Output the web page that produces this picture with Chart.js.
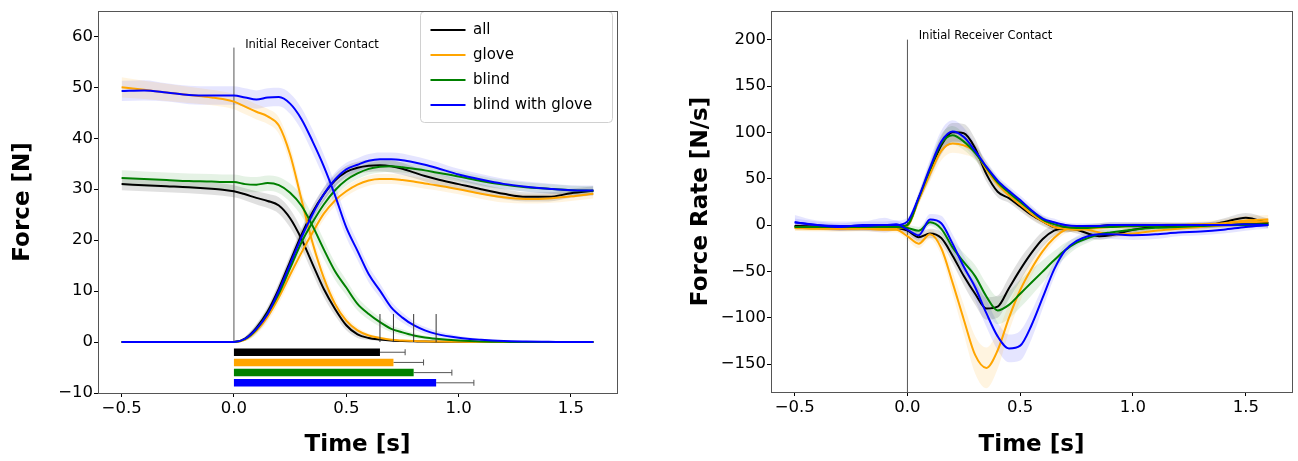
<!DOCTYPE html>
<html>
<head>
<meta charset="utf-8">
<script src="https://cdn.jsdelivr.net/npm/chart.js@4.4.0/dist/chart.umd.min.js"></script>
<style>
  html, body { margin: 0; padding: 0; background: #fff; }
  #wrap { position: relative; width: 1298px; height: 461px; }
  canvas { position: absolute; top: 0; }
  #forceChart { left: 0; }
  #rateChart { left: 649px; }
</style>
</head>
<body>
<div id="wrap">
  <canvas id="forceChart" width="649" height="461"></canvas>
  <canvas id="rateChart" width="649" height="461"></canvas>
</div>
<script>
// time grid [s]
const timeS = [-0.5,-0.4,-0.3,-0.2,-0.1,-0.05,0,0.05,0.1,0.15,0.2,0.25,0.3,0.35,0.4,0.45,0.5,0.55,0.6,0.65,0.7,0.75,0.8,0.85,0.9,1.0,1.1,1.2,1.3,1.4,1.5,1.6];

const conditions = ["all", "glove", "blind", "blind with glove"];
const lineColors = ["#000000", "#ffa500", "#008000", "#0000ff"];
const bandColors = ["rgba(0,0,0,0.12)", "rgba(255,165,0,0.12)", "rgba(0,128,0,0.1)", "rgba(0,0,255,0.1)"];

// giver force [N]
const allGiver   = [31.0,30.8,30.6,30.4,30.1,29.9,29.6,29.0,28.3,27.7,26.8,24.3,20.3,15.3,10.4,6.5,3.3,1.5,0.8,0.5,0.3,0.2,0.15,0.1,0.07,0.04,0.02,0.01,0,0,0,0];
const gloveGiver = [50.0,49.5,49.0,48.5,48.0,47.7,47.2,46.2,45.2,44.3,42.5,36.8,28.1,19.5,12.6,7.5,4.2,2.3,1.3,0.8,0.45,0.3,0.2,0.15,0.1,0.05,0.02,0,0,0,0,0];
const blindGiver = [32.2,32.0,31.8,31.6,31.5,31.4,31.4,31.0,30.9,31.2,30.8,29.3,26.8,22.8,18.2,13.9,10.7,7.5,5.5,3.9,2.6,1.9,1.3,0.9,0.65,0.3,0.1,0.05,0,0,0,0];
const bwgGiver   = [49.3,49.4,49.0,48.5,48.4,48.4,48.4,48.0,47.6,48.0,48.1,46.8,43.8,39.4,34.5,28.8,22.5,17.9,13.3,10.1,6.8,4.8,3.3,2.3,1.6,0.85,0.45,0.2,0.1,0.05,0,0];
const allGiverSd   = [1.2,1.2,1.2,1.2,1.2,1.2,1.2,1.2,1.3,1.4,1.6,1.8,1.9,1.8,1.6,1.3,1.0,0.7,0.4,0.3,0.2,0.15,0.1,0.1,0.1,0.05,0,0,0,0,0,0];
const gloveGiverSd = [2.0,1.8,1.7,1.6,1.5,1.5,1.5,1.5,1.5,1.5,1.6,1.8,1.9,1.8,1.5,1.2,0.9,0.6,0.4,0.3,0.2,0.15,0.1,0.1,0.1,0.05,0,0,0,0,0,0];
const blindGiverSd = [1.5,1.5,1.5,1.5,1.5,1.5,1.5,1.5,1.5,1.5,1.6,1.8,2.0,2.0,1.9,1.7,1.5,1.3,1.1,0.9,0.7,0.6,0.5,0.4,0.3,0.2,0.1,0,0,0,0,0];
const bwgGiverSd   = [2.0,2.0,1.8,1.8,1.8,1.8,1.8,1.8,1.8,1.8,1.8,2.0,2.2,2.3,2.3,2.2,2.0,1.8,1.6,1.4,1.2,1.0,0.8,0.7,0.6,0.4,0.2,0.1,0,0,0,0];

// receiver force [N]
const allRecv   = [0,0,0,0,0,0,0,0.7,2.8,6.0,10.5,15.8,21.0,25.5,29.0,31.7,33.4,34.2,34.6,34.7,34.5,34.0,33.3,32.6,32.0,31.0,30.0,29.1,28.5,28.5,29.2,29.7];
const gloveRecv = [0,0,0,0,0,0,0,0.5,2.2,5.0,8.8,13.2,17.5,21.5,25.2,27.8,29.6,30.9,31.7,32.0,32.0,31.8,31.5,31.1,30.8,30.0,29.1,28.4,28.1,28.2,28.6,29.1];
const blindRecv = [0,0,0,0,0,0,0,0.6,2.5,5.6,9.5,14.5,19.5,23.5,27.0,29.8,31.8,33.1,34.0,34.4,34.5,34.3,34.0,33.7,33.3,32.5,31.6,30.9,30.4,30.1,29.8,29.7];
const bwgRecv   = [0,0,0,0,0,0,0,0.65,2.6,5.5,10.1,15.3,20.5,25.1,29.0,31.9,33.9,34.8,35.6,35.9,35.9,35.7,35.3,34.8,34.2,32.9,31.9,31.05,30.5,30.1,29.8,29.75];
const allRecvSd   = [0,0,0,0,0,0,0,0.4,0.8,1.0,1.2,1.3,1.3,1.3,1.3,1.2,1.2,1.2,1.2,1.2,1.2,1.2,1.1,1.1,1.1,1.0,1.0,1.0,0.9,0.9,0.9,0.9];
const gloveRecvSd = [0,0,0,0,0,0,0,0.3,0.7,1.0,1.2,1.2,1.2,1.2,1.2,1.1,1.0,1.0,1.0,1.0,1.0,1.0,1.0,1.0,1.0,1.0,1.0,1.0,0.9,0.9,0.9,0.9];
const blindRecvSd = [0,0,0,0,0,0,0,0.4,0.8,1.0,1.2,1.2,1.3,1.3,1.2,1.2,1.1,1.1,1.1,1.1,1.1,1.0,1.0,1.0,1.0,1.0,1.0,0.9,0.9,0.9,0.9,0.9];
const bwgRecvSd   = [0,0,0,0,0,0,0,0.4,0.8,1.1,1.3,1.4,1.4,1.4,1.4,1.4,1.3,1.3,1.3,1.3,1.3,1.3,1.2,1.2,1.2,1.1,1.1,1.0,1.0,1.0,1.0,1.0];

// release time bars (y row, mean, sd) [s]
const barRows = [-2, -4, -6, -8];
const releaseMean = [0.65, 0.71, 0.80, 0.90];
const releaseSd = [0.112, 0.134, 0.17, 0.168];
const releaseMarkTop = 5.5;
const contactTopForce = 57.8;
const contactTopRate = 200;

// force rate [N/s], receiver (positive peak)
const allRecvRate   = [-1,-2,-3,-2,-2,-2,0,29,58,86,100,99,83,55,36,29,20,11,4,-2,-4,-3,-2,-1,0,0,0,-1,-1,3,8,2];
const gloveRecvRate = [-3,-3,-4,-3,-3,-3,-1,27,55,80,88,86,79,60,44,32,22,12,4,-2,-4,-5,-4,-3,-2,-1,0,0,1,2,5,6];
const blindRecvRate = [-2,-2,-2,-2,-2,-2,0,29,60,88,97,90,78,62,46,35,25,15,6,1,-2,-3,-3,-2,-2,-1,-1,0,0,0,1,1];
const bwgRecvRate   = [3,0,-1,-1,0,0,4,30,62,90,101,95,80,63,48,37,27,16,7,3,0,-1,-1,-1,0,0,0,0,0,0,1,0];
const allRecvRateSd   = [2,2,2,2,2,2,2,5,8,10,10,10,10,8,6,5,5,5,5,4,4,3,3,3,3,3,3,3,3,4,5,5];
const gloveRecvRateSd = [3,3,3,3,3,3,3,5,8,10,10,10,8,7,6,5,5,5,4,4,3,3,3,3,3,3,3,3,3,4,5,5];
const blindRecvRateSd = [2,2,2,2,2,2,2,5,8,10,10,9,8,6,5,5,4,4,4,3,3,3,3,3,3,3,2,2,2,2,2,2];
const bwgRecvRateSd   = [8,5,5,5,8,5,4,6,9,12,12,10,8,6,5,5,5,5,4,4,3,3,3,3,3,3,3,3,3,3,3,3];

// force rate [N/s], giver (negative peak)
const allGiverRate   = [-1,-2,-3,-3,-3,-3,-6,-13,-9,-14,-33,-55,-74,-90,-88,-68,-48,-30,-15,-6,-3,-5,-9,-12,-11,-5,-2,-1,0,1,2,2];
const gloveGiverRate = [-3,-4,-4,-4,-5,-5,-12,-20,-10,-25,-62,-102,-140,-154,-135,-100,-70,-47,-28,-14,-5,-3,-5,-8,-10,-9,-6,-4,-2,0,3,4];
const blindGiverRate = [-2,-2,-2,-2,-2,-2,-3,-6,3,-4,-24,-40,-55,-77,-92,-86,-74,-62,-50,-38,-27,-19,-14,-10,-8,-5,-3,-2,-1,0,0,0];
const bwgGiverRate   = [3,0,-2,0,0,1,-5,-11,6,2,-20,-45,-67,-95,-120,-133,-130,-108,-78,-48,-27,-17,-12,-10,-10,-11,-10,-8,-7,-5,-2,0];
const allGiverRateSd   = [3,3,3,3,3,3,4,5,5,6,8,10,12,12,12,12,12,10,8,6,4,4,4,4,3,3,3,3,3,3,3,3];
const gloveGiverRateSd = [3,3,3,3,3,3,4,5,5,8,12,16,20,22,20,15,12,8,6,5,4,4,4,4,3,3,3,3,3,3,3,3];
const blindGiverRateSd = [2,2,2,2,2,2,3,4,4,6,8,10,12,14,15,15,15,14,12,10,8,6,5,4,3,3,3,3,2,2,2,2];
const bwgGiverRateSd   = [4,4,4,4,4,4,4,5,6,8,10,12,14,15,15,15,16,15,12,9,6,5,5,5,5,5,5,4,4,4,4,4];

const timeTicks = [-0.5, 0, 0.5, 1.0, 1.5];
const forceTicks = [-10, 0, 10, 20, 30, 40, 50, 60];
const rateTicks = [-150, -100, -50, 0, 50, 100, 150, 200];

Chart.defaults.font.family = "DejaVu Sans";
Chart.defaults.color = "#000";

const minus = (s) => String(s).replace("-", "\u2212");

function pts(vals) {
    return vals.map((v, i) => ({ x: timeS[i], y: v }));
}

function bandSets(mean, sd, fillColor) {
    return [
        {
            data: mean.map((v, i) => ({ x: timeS[i], y: v + sd[i] })),
            fill: "+1", backgroundColor: fillColor, borderColor: "transparent",
            borderWidth: 0, pointRadius: 0, cubicInterpolationMode: "monotone", order: 10,
        },
        {
            data: mean.map((v, i) => ({ x: timeS[i], y: v - sd[i] })),
            fill: false, borderColor: "transparent",
            borderWidth: 0, pointRadius: 0, cubicInterpolationMode: "monotone", order: 10,
        },
    ];
}

function meanSet(vals, color, label) {
    return {
        label: label || "", data: pts(vals), borderColor: color, backgroundColor: color,
        borderWidth: 2, pointRadius: 0, fill: false, cubicInterpolationMode: "monotone", order: 1,
    };
}

function segment(a, b, color, width, extra) {
    return Object.assign({
        label: "", data: [a, b], borderColor: color, borderWidth: width,
        pointRadius: 0, fill: false, order: 5,
    }, extra || {});
}

function buildDatasets(series) {
    const sets = [];
    series.forEach((s) => {
        sets.push(...bandSets(s.giver, s.giverSd, bandColors[s.c]));
        sets.push(...bandSets(s.recv, s.recvSd, bandColors[s.c]));
    });
    return sets;
}

function xScale(bottomPx) {
    return {
        type: "linear", min: -0.605, max: 1.705,
        afterBuildTicks: (s) => { s.ticks = timeTicks.map((v) => ({ value: v })); },
        ticks: { callback: (v) => minus(v.toFixed(1)), font: { size: 16.5 }, color: "#000", padding: 2, maxRotation: 0 },
        grid: { drawOnChartArea: false, tickLength: 4, color: "#000" },
        border: { display: false },
        title: { display: true, text: "Time [s]", font: { size: 23, weight: "bold" }, color: "#000", padding: { top: 0, bottom: 2 } },
        afterFit: (s) => { s.height = 461 - bottomPx; },
    };
}

function yScale(min, max, ticks, title, widthPx, titlePad) {
    return {
        type: "linear", min: min, max: max,
        afterBuildTicks: (s) => { s.ticks = ticks.map((v) => ({ value: v })); },
        ticks: { callback: (v) => minus(v), font: { size: 16.5 }, color: "#000", padding: 1 },
        grid: { drawOnChartArea: false, tickLength: 4, color: "#000" },
        border: { display: false },
        title: { display: true, text: title, font: { size: 23, weight: "bold" }, color: "#000", padding: { top: titlePad, bottom: 0 } },
        afterFit: (s) => { s.width = widthPx; },
    };
}

function extrasPlugin(cfg) {
    return {
        id: "extras",
        afterLayout(chart) {
            if (cfg.legendAt && chart.legend) {
                chart.legend.left = cfg.legendAt[0];
                chart.legend.top = cfg.legendAt[1];
            }
        },
        beforeDraw(chart) {
            if (!cfg.legendBox) return;
            const ctx = chart.ctx;
            const [x, y, w, h] = cfg.legendBox;
            ctx.save();
            ctx.beginPath();
            ctx.roundRect(x + 0.5, y + 0.5, w, h, 4);
            ctx.fillStyle = "rgba(255,255,255,0.8)";
            ctx.fill();
            ctx.strokeStyle = "#d0d0d0";
            ctx.lineWidth = 1;
            ctx.stroke();
            ctx.restore();
        },
        afterDraw(chart) {
            const ctx = chart.ctx;
            const a = chart.chartArea;
            ctx.save();
            ctx.strokeStyle = "#555";
            ctx.lineWidth = 1;
            ctx.strokeRect(Math.round(a.left) + 0.5, Math.round(a.top) + 0.5,
                Math.round(a.right - a.left), Math.round(a.bottom - a.top));
            const xs = chart.scales.x, ys = chart.scales.y;
            ctx.font = "11.5px 'DejaVu Sans'";
            ctx.fillStyle = "#000";
            ctx.textBaseline = "middle";
            ctx.textAlign = "left";
            ctx.fillText("Initial Receiver Contact", xs.getPixelForValue(cfg.textAt[0]), ys.getPixelForValue(cfg.textAt[1]));
            ctx.restore();
        },
    };
}

// ---------- left: force ----------
const forceSeries = [
    { c: 0, giver: allGiver, giverSd: allGiverSd, recv: allRecv, recvSd: allRecvSd },
    { c: 1, giver: gloveGiver, giverSd: gloveGiverSd, recv: gloveRecv, recvSd: gloveRecvSd },
    { c: 2, giver: blindGiver, giverSd: blindGiverSd, recv: blindRecv, recvSd: blindRecvSd },
    { c: 3, giver: bwgGiver, giverSd: bwgGiverSd, recv: bwgRecv, recvSd: bwgRecvSd },
];
const forceSets = buildDatasets(forceSeries);
forceSets.push(segment({ x: 0, y: 0 }, { x: 0, y: contactTopForce }, "#555", 1));
// mean lines, blue on top
[3, 2, 1, 0].forEach((c) => {
    const s = forceSeries[c];
    forceSets.push(meanSet(s.giver, lineColors[c], conditions[c]));
    forceSets.push(meanSet(s.recv, lineColors[c]));
});
// release markers and bars
barRows.forEach((row, i) => {
    forceSets.push(segment({ x: releaseMean[i], y: 0 }, { x: releaseMean[i], y: releaseMarkTop }, "#333", 1, { order: 0 }));
    forceSets.push(segment({ x: 0, y: row }, { x: releaseMean[i], y: row }, lineColors[i], 7.5, { order: 0, borderCapStyle: "butt" }));
    forceSets.push(segment({ x: releaseMean[i], y: row }, { x: releaseMean[i] + releaseSd[i], y: row }, "#555", 1, {
        order: 0, pointStyle: "line", rotation: 90, pointRadius: [0, 3], pointBorderColor: "#555", pointBorderWidth: 1,
    }));
});

new Chart(document.getElementById("forceChart"), {
    type: "line",
    data: { datasets: forceSets },
    options: {
        responsive: false, animation: false,
        layout: { padding: { top: 8, right: 32, left: 0, bottom: 0 } },
        scales: {
            x: xScale(393),
            y: yScale(-10, 65, forceTicks, "Force [N]", 98, 9),
        },
        plugins: {
            tooltip: { enabled: false },
            legend: {
                position: "chartArea", align: "start",
                labels: {
                    usePointStyle: true, pointStyle: "line", pointStyleWidth: 35,
                    font: { size: 15 }, color: "#000", padding: 10,
                    filter: (item) => conditions.includes(item.text),
                    sort: (a, b) => conditions.indexOf(a.text) - conditions.indexOf(b.text),
                },
            },
        },
    },
    plugins: [extrasPlugin({ legendAt: [420.5, 12.5], legendBox: [420, 11, 192, 111], textAt: [0.05, 58.4] })],
});

// ---------- right: force rate ----------
const rateSeries = [
    { c: 0, giver: allGiverRate, giverSd: allGiverRateSd, recv: allRecvRate, recvSd: allRecvRateSd },
    { c: 1, giver: gloveGiverRate, giverSd: gloveGiverRateSd, recv: gloveRecvRate, recvSd: gloveRecvRateSd },
    { c: 2, giver: blindGiverRate, giverSd: blindGiverRateSd, recv: blindRecvRate, recvSd: blindRecvRateSd },
    { c: 3, giver: bwgGiverRate, giverSd: bwgGiverRateSd, recv: bwgRecvRate, recvSd: bwgRecvRateSd },
];
const rateSets = buildDatasets(rateSeries);
rateSets.push(segment({ x: 0, y: -180 }, { x: 0, y: contactTopRate }, "#555", 1));
[3, 2, 1, 0].forEach((c) => {
    const s = rateSeries[c];
    rateSets.push(meanSet(s.giver, lineColors[c]));
    rateSets.push(meanSet(s.recv, lineColors[c]));
});

new Chart(document.getElementById("rateChart"), {
    type: "line",
    data: { datasets: rateSets },
    options: {
        responsive: false, animation: false,
        layout: { padding: { top: 8, right: 6, left: 0, bottom: 0 } },
        scales: {
            x: xScale(392),
            y: yScale(-180, 231, rateTicks, "Force Rate [N/s]", 122, 38),
        },
        plugins: { tooltip: { enabled: false }, legend: { display: false } },
    },
    plugins: [extrasPlugin({ textAt: [0.05, 204] })],
});
</script>
</body>
</html>
